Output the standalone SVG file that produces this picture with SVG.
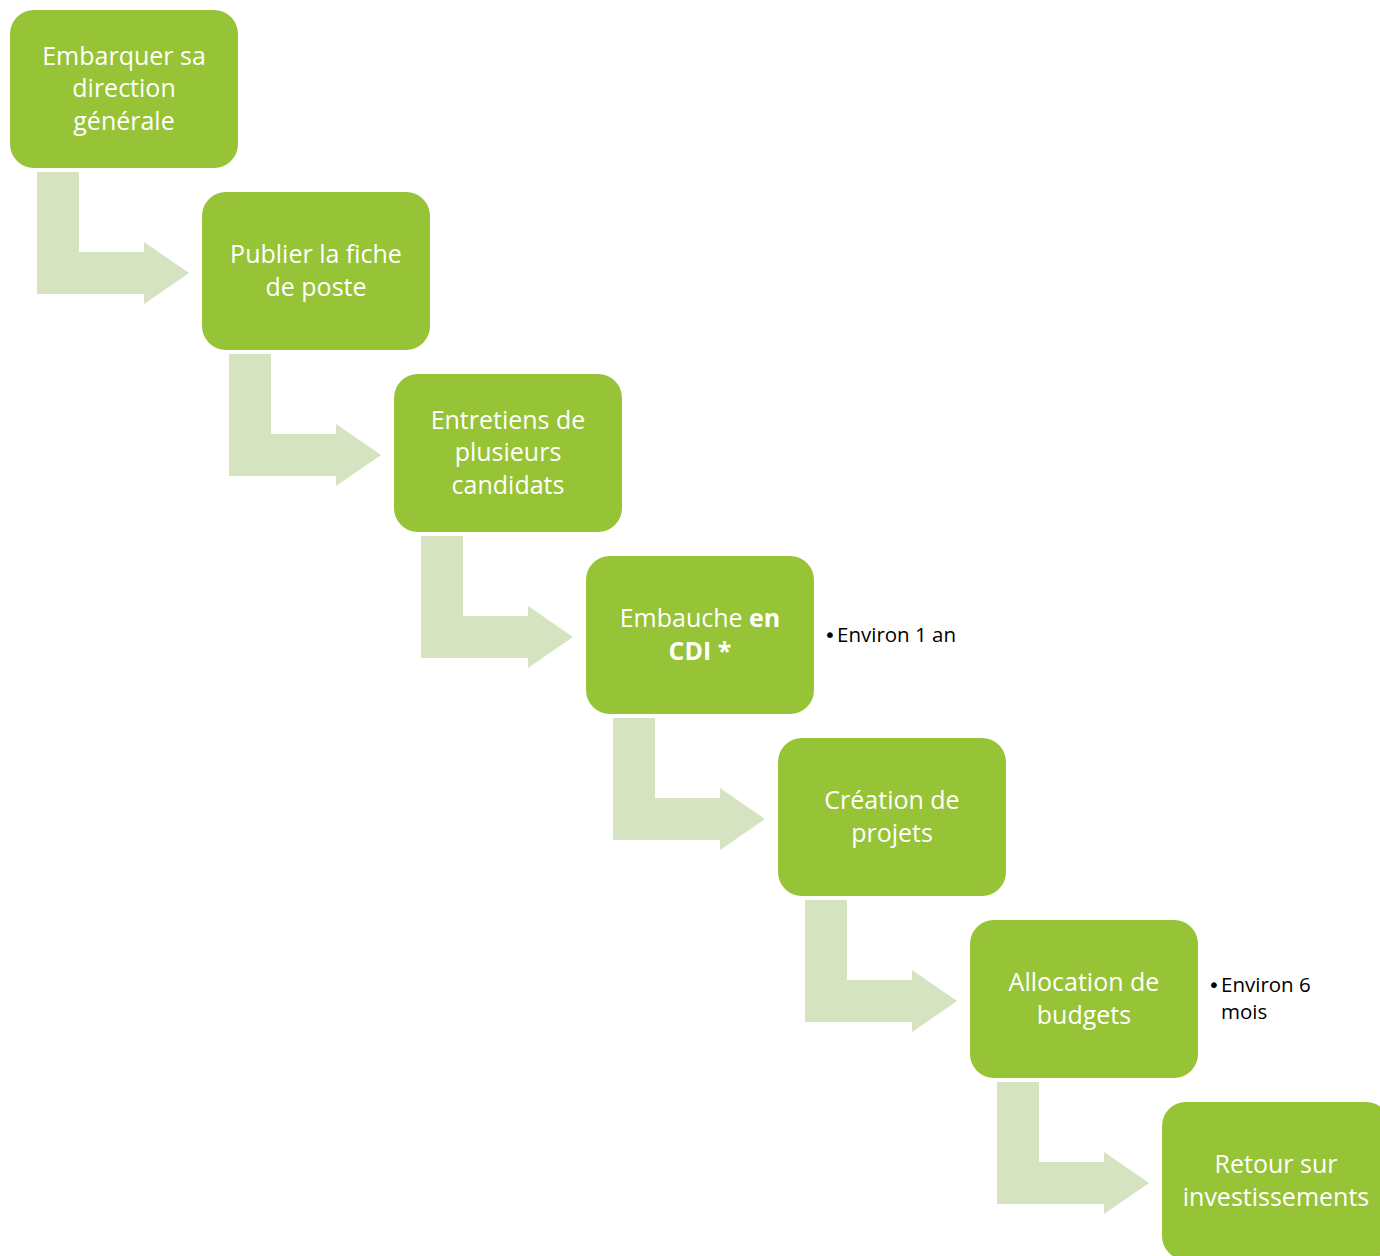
<svg xmlns="http://www.w3.org/2000/svg" width="1380" height="1256" viewBox="0 0 1380 1256">
<defs>
<style>
.box{fill:#97C337;}
.arr{fill:#D5E3C0;}
.t{font-family:"Open Sans","Liberation Sans",sans-serif;font-size:25px;fill:#FFFFFF;text-anchor:middle;}
.n{font-family:"Open Sans","Liberation Sans",sans-serif;font-size:20.5px;fill:#000000;}
.b{font-family:"DejaVu Sans",sans-serif;font-size:20px;}
</style>
<path id="a" d="M37,172 H79 V252 H144 V242 L189,273 L144,304 V294 H37 Z"/>
</defs>
<rect width="1380" height="1256" fill="#FFFFFF"/>
<g id="connectors">
<use href="#a" class="arr"/>
<use href="#a" class="arr" transform="translate(192,182)"/>
<use href="#a" class="arr" transform="translate(384,364)"/>
<use href="#a" class="arr" transform="translate(576,546)"/>
<use href="#a" class="arr" transform="translate(768,728)"/>
<use href="#a" class="arr" transform="translate(960,910)"/>
</g>
<g id="n1"><rect class="box" x="10" y="10" width="228" height="158" rx="24"/>
<text class="t" x="124" y="65">Embarquer sa</text><text class="t" x="124" y="97">direction</text><text class="t" x="124" y="130">générale</text></g>
<g id="n2"><rect class="box" x="202" y="192" width="228" height="158" rx="24"/>
<text class="t" x="316" y="263">Publier la fiche</text><text class="t" x="316" y="296">de poste</text></g>
<g id="n3"><rect class="box" x="394" y="374" width="228" height="158" rx="24"/>
<text class="t" x="508" y="429">Entretiens de</text><text class="t" x="508" y="461">plusieurs</text><text class="t" x="508" y="494">candidats</text></g>
<g id="n4"><rect class="box" x="586" y="556" width="228" height="158" rx="24"/>
<text class="t" x="700" y="627">Embauche <tspan font-weight="bold">en</tspan></text><text class="t" x="700" y="660" font-weight="bold">CDI *</text></g>
<g id="note1"><text class="n" x="824" y="642"><tspan class="b">•</tspan><tspan x="837">Environ 1 an</tspan></text></g>
<g id="n5"><rect class="box" x="778" y="738" width="228" height="158" rx="24"/>
<text class="t" x="892" y="809">Création de</text><text class="t" x="892" y="842">projets</text></g>
<g id="n6"><rect class="box" x="970" y="920" width="228" height="158" rx="24"/>
<text class="t" x="1084" y="991">Allocation de</text><text class="t" x="1084" y="1024">budgets</text></g>
<g id="note2"><text class="n" x="1208" y="992"><tspan class="b">•</tspan><tspan x="1221">Environ 6</tspan></text><text class="n" x="1221" y="1019">mois</text></g>
<g id="n7"><rect class="box" x="1162" y="1102" width="228" height="158" rx="24"/>
<text class="t" x="1276" y="1173">Retour sur</text><text class="t" x="1276" y="1206">investissements</text></g>
</svg>
